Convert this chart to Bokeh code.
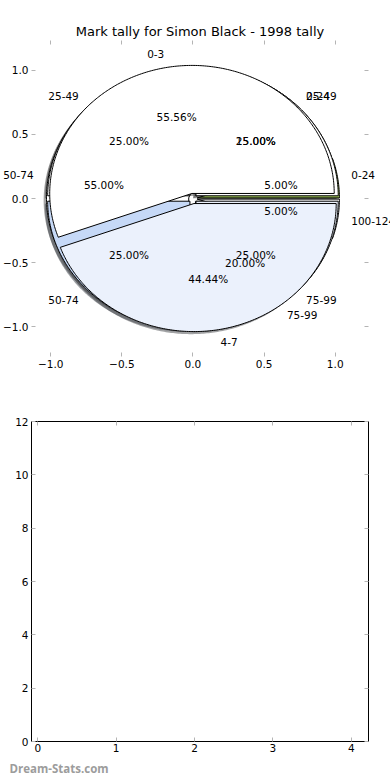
import numpy as np
from bokeh.plotting import figure
from bokeh.layouts import column
from bokeh.models import (ColumnDataSource, FixedTicker, LinearAxis, Title,
                          LabelSet, CustomJSTickFormatter, Range1d)
from bokeh.core.properties import field, value
from bokeh.embed import file_html
from bokeh.resources import INLINE

try:
    from bokeh.models import HTMLLabelSet as TextSet
except ImportError:
    TextSet = LabelSet

chart_title = "Mark tally for Simon Black - 1998 tally"
watermark = "Dream-Stats.com"

# Pie 1: score bands (drawn first / bottom layer)
pie1_labels = ["0-24", "25-49", "50-74", "75-99", "100-124"]
pie1_values = [5, 15, 55, 20, 5]
pie1_colors = ["#9dc157", "#ffffff", "#ffffff", "#ebf1fc", "#ffffff"]
pie1_explode = [0.03, 0.03, 0.03, 0.03, 0.03]

# Pie 2: quarter bands (middle layer)
pie2_labels = ["0-24", "25-49", "50-74", "75-99"]
pie2_values = [25, 25, 25, 25]
pie2_colors = ["#ffffff", "#ffffff", "#c6d9f7", "#ebf1fc"]
pie2_explode = [0.03, 0.03, 0.03, 0.03]

# Pie 3: goals (top layer)
pie3_labels = ["0-3", "4-7"]
pie3_values = [5, 4]
pie3_colors = ["#ffffff", "#ebf1fc"]
pie3_explode = [0.04, 0.04]

pie_ticks = [-1.0, -0.5, 0.0, 0.5, 1.0]
pie_tick_labels = ["\u22121.0", "\u22120.5", "0.0", "0.5", "1.0"]

bar_x_ticks = [0, 1, 2, 3, 4]
bar_y_ticks = [0, 2, 4, 6, 8, 10, 12]

FONT = "DejaVu Sans"
TICK_GRAY = "#b4b4b4"


def shade(hexcol):
    h = hexcol.lstrip("#")
    r, g, b = (int(h[i:i + 2], 16) for i in (0, 2, 4))
    return "#%02x%02x%02x" % (int(r * 0.3), int(g * 0.3), int(b * 0.3))


def pie_geometry(values, colors, labels, explode):
    vals = np.asarray(values, dtype=float)
    frac = vals / vals.sum()
    ends = np.cumsum(frac) * 2 * np.pi
    starts = ends - frac * 2 * np.pi
    wed = dict(xs=[], ys=[], color=[])
    shd = dict(xs=[], ys=[], color=[])
    lab = dict(x=[], y=[], text=[], align=[])
    pct = dict(x=[], y=[], text=[])
    for s, e, f, c, l, ex in zip(starts, ends, frac, colors, labels, explode):
        m = 0.5 * (s + e)
        cx, cy = ex * np.cos(m), ex * np.sin(m)
        n = max(int((e - s) * 80), 6)
        t = np.linspace(s, e, n)
        x = np.concatenate([[cx], cx + np.cos(t), [cx]])
        y = np.concatenate([[cy], cy + np.sin(t), [cy]])
        wed["xs"].append(list(x)); wed["ys"].append(list(y)); wed["color"].append(c)
        shd["xs"].append(list(x - 0.02)); shd["ys"].append(list(y - 0.02))
        shd["color"].append(shade(c))
        xt = cx + 1.1 * np.cos(m)
        lab["x"].append(xt); lab["y"].append(cy + 1.1 * np.sin(m))
        lab["text"].append(l); lab["align"].append("left" if xt > 0 else "right")
        pct["x"].append(cx + 0.6 * np.cos(m)); pct["y"].append(cy + 0.6 * np.sin(m))
        pct["text"].append("%.2f%%" % (100 * f))
    return wed, shd, lab, pct


pies = [
    pie_geometry(pie1_values, pie1_colors, pie1_labels, pie1_explode),
    pie_geometry(pie2_values, pie2_colors, pie2_labels, pie2_explode),
    pie_geometry(pie3_values, pie3_colors, pie3_labels, pie3_explode),
]

p1 = figure(width=390, height=398, x_range=Range1d(-1.135, 1.234),
            y_range=Range1d(-1.234, 1.234), output_backend="svg",
            toolbar_location=None, min_border_top=40, min_border_bottom=42,
            min_border_left=0, min_border_right=22)
p1.title.text = chart_title
p1.title.text_font = FONT
p1.title.text_font_size = "13px"
p1.title.text_font_style = "normal"
p1.title.align = "center"
p1.title.offset = -6
p1.title.text_color = "#000000"
p1.title.standoff = 4
p1.outline_line_color = None
p1.grid.visible = False

# shadows beneath everything
for wed, shd, lab, pct in pies:
    p1.patches("xs", "ys", source=ColumnDataSource(shd), fill_color="color",
               fill_alpha=0.5, line_color=None)
for wed, shd, lab, pct in pies:
    p1.patches("xs", "ys", source=ColumnDataSource(wed), fill_color="color",
               line_color="#000000", line_width=1)
for wed, shd, lab, pct in pies:
    p1.add_layout(TextSet(x="x", y="y", text="text", source=ColumnDataSource(lab),
                          text_align=field("align"), text_baseline="middle",
                          text_font_size="10.5px", text_font=value(FONT),
                          text_color="#000000"))
    p1.add_layout(TextSet(x="x", y="y", text="text", source=ColumnDataSource(pct),
                          text_align="center", text_baseline="middle",
                          text_font_size="10.5px", text_font=value(FONT),
                          text_color="#000000"))


def style_axis(ax, labels=True):
    ax.axis_line_color = None
    ax.major_tick_line_color = TICK_GRAY
    ax.major_tick_in = 4
    ax.major_tick_out = 0
    ax.minor_tick_line_color = None
    ax.major_label_text_font = FONT
    ax.major_label_text_font_size = "10.5px"
    ax.major_label_text_color = "#000000"
    ax.major_label_standoff = 3
    ax.axis_label_standoff = 0
    if not labels:
        ax.formatter = CustomJSTickFormatter(code="return '';")
        ax.major_label_standoff = 0
        ax.major_label_text_font_size = "1px"


p1.add_layout(LinearAxis(), "above")
p1.add_layout(LinearAxis(), "right")
for ax in p1.xaxis + p1.yaxis:
    ax.ticker = FixedTicker(ticks=pie_ticks)
p1.below[0].major_label_overrides = {t: s for t, s in zip(pie_ticks, pie_tick_labels)}
p1.left[0].major_label_overrides = {t: s for t, s in zip(pie_ticks, pie_tick_labels)}
style_axis(p1.below[0])
style_axis(p1.left[0])
style_axis(p1.above[0], labels=False)
style_axis(p1.right[0], labels=False)

p2 = figure(width=390, height=382, x_range=Range1d(-0.08, 4.22),
            y_range=Range1d(0, 12), output_backend="svg",
            toolbar_location=None, min_border_top=23, min_border_bottom=39,
            min_border_left=0, min_border_right=19)
p2.outline_line_color = "#000000"
p2.outline_line_width = 1
p2.grid.visible = False
p2.add_layout(LinearAxis(), "above")
p2.add_layout(LinearAxis(), "right")
for ax in p2.xaxis:
    ax.ticker = FixedTicker(ticks=bar_x_ticks)
for ax in p2.yaxis:
    ax.ticker = FixedTicker(ticks=bar_y_ticks)
style_axis(p2.below[0])
style_axis(p2.left[0])
style_axis(p2.above[0], labels=False)
style_axis(p2.right[0], labels=False)
p2.below[0].major_label_standoff = 2

wm = Title(text=watermark, align="left", offset=-22, standoff=8,
           text_font="Open Sans", text_font_size="11.5px", text_font_style="bold",
           text_color="#9c9c9c")
p2.add_layout(wm, "below")

layout = column(p1, p2, spacing=0)
open("out.html", "w").write(file_html(layout, INLINE))
